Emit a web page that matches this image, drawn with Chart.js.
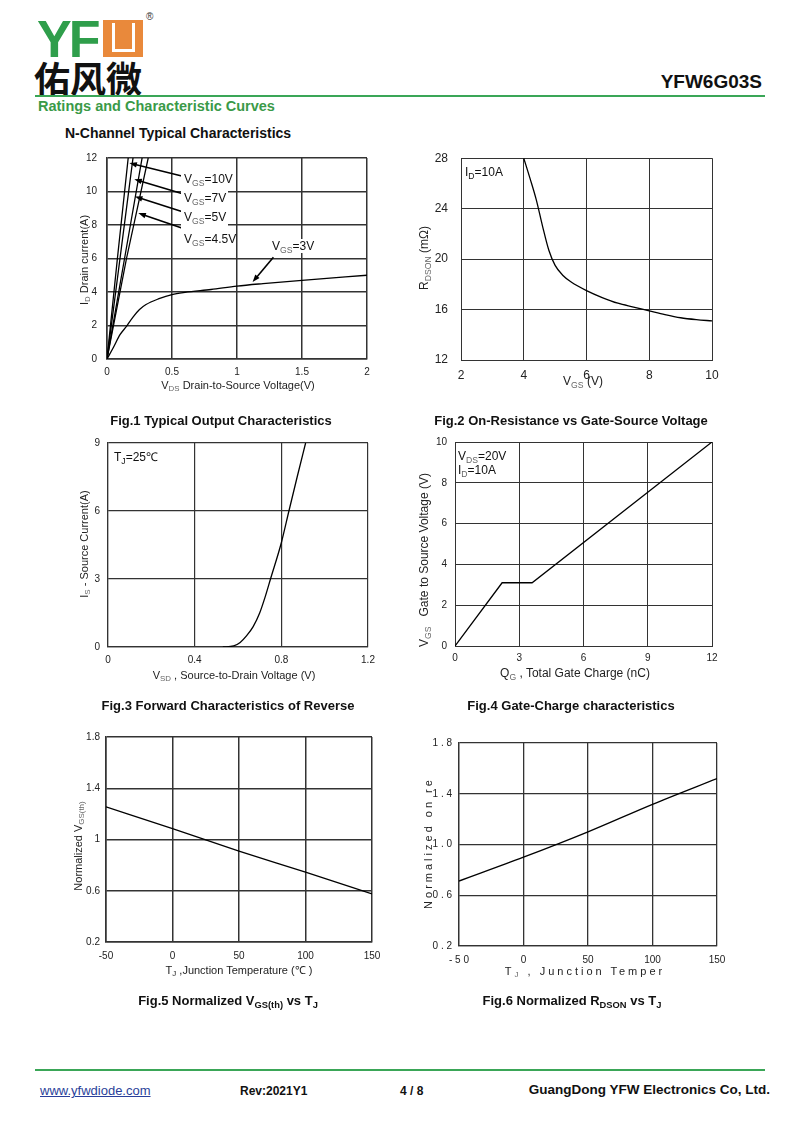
<!DOCTYPE html>
<html>
<head>
<meta charset="utf-8">
<script src="https://cdn.jsdelivr.net/npm/chart.js@4.4.1/dist/chart.umd.min.js"></script>
<style>
  body { margin: 0; width: 800px; height: 1131px; position: relative; background: #fff; overflow: hidden;
         font-family: "Liberation Sans", Arial, sans-serif; color: #111; }
  canvas { position: absolute; }
  .a { position: absolute; white-space: nowrap; }
  .c { position: absolute; white-space: nowrap; transform: translate(-50%, -50%); }
  .v { position: absolute; white-space: nowrap; transform: translate(-50%, -50%) rotate(-90deg); }
  .s { font-size: 72%; position: relative; top: 0.3em; color: #666; }
  .sb { font-size: 72%; position: relative; top: 0.3em; }
  .cap { font-weight: bold; font-size: 13px; }
  .ax { font-size: 11px; color: #222; }
  .lbl { font-size: 12px; color: #111; }
</style>
</head>
<body>

<!-- header -->
<div class="a" style="left:37px;top:13px;font:bold 52px/52px 'Liberation Sans';color:#2f9e4b;letter-spacing:-3px">YF</div>
<div class="a" style="left:103px;top:20px;width:40px;height:37px;background:#e9893b">
  <div class="a" style="left:9px;top:3px;width:17px;height:26px;border:3px solid #fff;border-top:none"></div>
</div>
<div class="a" style="left:146px;top:11px;font-size:10px;color:#333">®</div>
<div class="a" style="left:34px;top:57px;font:bold 36px/40px 'Noto Sans CJK SC';color:#111">佑风微</div>
<div class="a" style="right:38px;top:71px;font:bold 19px/22px 'Liberation Sans';color:#111">YFW6G03S</div>
<div class="a" style="left:35px;top:95px;width:730px;height:2px;background:#3aa657"></div>
<div class="a" style="left:38px;top:98px;font:bold 14.5px/16px 'Liberation Sans';color:#3a9a48">Ratings and Characteristic Curves</div>
<div class="a" style="left:65px;top:125px;font:bold 14px/16px 'Liberation Sans'">N-Channel Typical Characteristics</div>

<canvas id="fig1"></canvas>
<canvas id="fig2"></canvas>
<canvas id="fig3"></canvas>
<canvas id="fig4"></canvas>
<canvas id="fig5"></canvas>
<canvas id="fig6"></canvas>

<!-- fig1 texts -->
<div class="a" style="left:181px;top:172px;width:47px;height:74px;background:#fff"></div>
<div class="a lbl" style="left:184px;top:172px">V<span class="s">GS</span>=10V</div>
<div class="a lbl" style="left:184px;top:191px">V<span class="s">GS</span>=7V</div>
<div class="a lbl" style="left:184px;top:210px">V<span class="s">GS</span>=5V</div>
<div class="a lbl" style="left:184px;top:232px">V<span class="s">GS</span>=4.5V</div>
<div class="a lbl" style="left:272px;top:239px;background:#fff">V<span class="s">GS</span>=3V</div>
<div class="v ax" style="left:84px;top:260px">I<span class="s">D</span> Drain current(A)</div>
<div class="c ax" style="left:238px;top:385px">V<span class="s">DS</span> Drain-to-Source Voltage(V)</div>
<div class="c cap" style="left:221px;top:420px">Fig.1 Typical Output Characteristics</div>

<!-- fig2 texts -->
<div class="a lbl" style="left:465px;top:165px">I<span class="sb">D</span>=10A</div>
<div class="v" style="left:424px;top:258px;font-size:12px;color:#222">R<span class="s">DSON</span> (mΩ)</div>
<div class="c" style="left:583px;top:381px;font-size:12px;color:#222">V<span class="s">GS</span> (V)</div>
<div class="c cap" style="left:571px;top:420px">Fig.2 On-Resistance vs Gate-Source Voltage</div>

<!-- fig3 texts -->
<div class="a lbl" style="left:114px;top:448px">T<span class="sb">J</span>=25℃</div>
<div class="v ax" style="left:84px;top:544px">I<span class="s">S</span> - Source Current(A)</div>
<div class="c ax" style="left:234px;top:675px">V<span class="s">SD</span> , Source-to-Drain Voltage (V)</div>
<div class="c cap" style="left:228px;top:705px">Fig.3 Forward Characteristics of Reverse</div>

<!-- fig4 texts -->
<div class="a lbl" style="left:458px;top:449px">V<span class="s">DS</span>=20V</div>
<div class="a lbl" style="left:458px;top:463px">I<span class="s">D</span>=10A</div>
<div class="v" style="left:424px;top:560px;font-size:12px;color:#222">V<span class="s">GS</span>&nbsp;&nbsp; Gate to Source Voltage (V)</div>
<div class="c" style="left:575px;top:673px;font-size:12px;color:#222">Q<span class="s">G</span> , Total Gate Charge (nC)</div>
<div class="c cap" style="left:571px;top:705px">Fig.4 Gate-Charge characteristics</div>

<!-- fig5 texts -->
<div class="v ax" style="left:78px;top:846px">Normalized V<span class="s">GS(th)</span></div>
<div class="c ax" style="left:239px;top:969px">T<span class="sb">J</span> ,Junction Temperature (℃ )</div>
<div class="c cap" style="left:228px;top:1000px">Fig.5 Normalized V<span class="sb">GS(th)</span> vs T<span class="sb">J</span></div>

<!-- fig6 texts -->
<div class="v ax" style="left:428px;top:843px;letter-spacing:3px">Normalized on re</div>
<div class="c ax" style="left:585px;top:971px;letter-spacing:3px">T<span class="s">J</span> , Junction Temper</div>
<div class="c cap" style="left:572px;top:1000px">Fig.6 Normalized R<span class="sb">DSON</span> vs T<span class="sb">J</span></div>

<!-- footer -->
<div class="a" style="left:35px;top:1069px;width:730px;height:2px;background:#3aa657"></div>
<div class="a" style="left:40px;top:1083px;font-size:13px;color:#2a3f9a;text-decoration:underline">www.yfwdiode.com</div>
<div class="a" style="left:240px;top:1084px;font:bold 12px 'Liberation Sans'">Rev:2021Y1</div>
<div class="a" style="left:400px;top:1084px;font:bold 12px 'Liberation Sans'">4 / 8</div>
<div class="a" style="right:30px;top:1082px;font:bold 13.5px 'Liberation Sans'">GuangDong YFW Electronics Co, Ltd.</div>

<script>
// Fig.1 output characteristics
const vgs10Vds = [0, 0.08, 0.163];
const vgs10Id = [0, 6, 12];
const vgs7Vds = [0, 0.1, 0.2];
const vgs7Id = [0, 6, 12];
const vgs5Vds = [0, 0.135, 0.27];
const vgs5Id = [0, 6, 12];
const vgs45Vds = [0, 0.15, 0.317];
const vgs45Id = [0, 6, 12];
const vgs3Vds = [0, 0.05, 0.1, 0.15, 0.2, 0.25, 0.3, 0.4, 0.5, 0.6, 0.8, 1.0, 1.2, 1.5, 2.0];
const vgs3Id = [0, 0.7, 1.45, 1.95, 2.5, 2.95, 3.25, 3.6, 3.85, 3.98, 4.15, 4.35, 4.5, 4.7, 5.0];
// label arrows (tail -> head), in data units
const fig1ArrowTail = [[0.575, 10.93], [0.575, 9.88], [0.575, 8.81], [0.575, 7.82], [1.28, 6.08]];
const fig1ArrowHead = [[0.172, 11.7], [0.21, 10.73], [0.215, 9.7], [0.241, 8.71], [1.12, 4.59]];

// Fig.2 on-resistance vs VGS
const fig2Vgs = [4, 4.2, 4.4, 4.6, 4.8, 5.0, 5.25, 5.5, 6.0, 6.5, 7.0, 7.5, 8.0, 8.5, 9.0, 9.5, 10];
const fig2Rds = [28, 26.4, 24.7, 22.6, 20.7, 19.5, 18.7, 18.2, 17.5, 16.95, 16.5, 16.2, 15.9, 15.6, 15.35, 15.2, 15.1];

// Fig.3 body diode forward
const fig3Vsd = [0.53, 0.58, 0.61, 0.64, 0.67, 0.70, 0.725, 0.75, 0.80, 0.835, 0.873, 0.912];
const fig3Is = [0, 0.05, 0.2, 0.5, 0.9, 1.5, 2.2, 3.0, 4.6, 6.0, 7.5, 9.0];

// Fig.4 gate charge
const fig4Qg = [0, 2.2, 3.6, 12];
const fig4Vgs = [0, 3.1, 3.1, 10];

// Fig.5 / Fig.6 vs junction temperature
const tempC = [-50, 0, 50, 100, 150];
const fig5Vth = [1.255, 1.085, 0.91, 0.745, 0.575];
const fig6Rds = [0.712, 0.90, 1.10, 1.317, 1.52];

const family = "'Liberation Sans', Arial, sans-serif";
const plain = v => String(Math.round(v * 100) / 100);
const spaced = v => String(v).split('').join(' ');

const arrowPlugin = {
  id: 'arrows',
  afterDatasetsDraw(chart, args, opts) {
    const { ctx, scales } = chart;
    const tails = opts.tails || [], heads = opts.heads || [];
    ctx.save();
    ctx.strokeStyle = '#000';
    ctx.fillStyle = '#000';
    ctx.lineWidth = 1.6;
    tails.forEach((t, i) => {
      const x0 = scales.x.getPixelForValue(t[0]), y0 = scales.y.getPixelForValue(t[1]);
      const x1 = scales.x.getPixelForValue(heads[i][0]), y1 = scales.y.getPixelForValue(heads[i][1]);
      const ang = Math.atan2(y1 - y0, x1 - x0);
      ctx.beginPath();
      ctx.moveTo(x0, y0);
      ctx.lineTo(x1 - 5 * Math.cos(ang), y1 - 5 * Math.sin(ang));
      ctx.stroke();
      ctx.beginPath();
      ctx.moveTo(x1, y1);
      ctx.lineTo(x1 - 8 * Math.cos(ang - 0.35), y1 - 8 * Math.sin(ang - 0.35));
      ctx.lineTo(x1 - 8 * Math.cos(ang + 0.35), y1 - 8 * Math.sin(ang + 0.35));
      ctx.closePath();
      ctx.fill();
    });
    ctx.restore();
  }
};

function buildChart(id, area, sx, sy, series, arrows) {
  const m = { l: 60, t: 14, r: 26, b: 32 };
  const cv = document.getElementById(id);
  const w = area.w + m.l + m.r, h = area.h + m.t + m.b;
  cv.width = w;
  cv.height = h;
  cv.style.left = (area.x - m.l) + 'px';
  cv.style.top = (area.y - m.t) + 'px';

  const scale = (s, fit) => ({
    type: 'linear', min: s.min, max: s.max,
    ticks: { stepSize: s.step, padding: s.pad, color: '#222', font: { family, size: s.size },
             autoSkip: false, maxRotation: 0, callback: s.fmt || plain },
    grid: { color: '#333', lineWidth: area.gw, drawTicks: false },
    border: { color: '#333', width: area.gw },
    afterFit: fit
  });

  return new Chart(cv, {
    type: 'line',
    data: {
      datasets: series.map(sr => ({
        data: sr.x.map((v, i) => ({ x: v, y: sr.y[i] })),
        borderColor: '#000',
        borderWidth: 1.3,
        pointRadius: 0,
        cubicInterpolationMode: sr.straight ? 'default' : 'monotone',
        tension: sr.straight ? 0 : 0.4
      }))
    },
    options: {
      responsive: false,
      animation: false,
      layout: { padding: { top: m.t, right: m.r, left: 0, bottom: 0 } },
      plugins: { legend: { display: false }, tooltip: { enabled: false }, arrows: arrows || {} },
      scales: {
        x: scale(sx, s => { s.height = m.b; }),
        y: scale(sy, s => { s.width = m.l; })
      }
    },
    plugins: [arrowPlugin]
  });
}

buildChart('fig1', { x: 107, y: 156, w: 260, h: 203, gw: 1.5 },
  { min: 0, max: 2, step: 0.5, pad: 7, size: 10 },
  { min: 0, max: 12, step: 2, pad: 10, size: 10 },
  [
    { x: vgs10Vds, y: vgs10Id, straight: true },
    { x: vgs7Vds, y: vgs7Id, straight: true },
    { x: vgs5Vds, y: vgs5Id, straight: true },
    { x: vgs45Vds, y: vgs45Id, straight: true },
    { x: vgs3Vds, y: vgs3Id }
  ],
  { tails: fig1ArrowTail, heads: fig1ArrowHead });

buildChart('fig2', { x: 461, y: 152, w: 251, h: 208, gw: 1 },
  { min: 2, max: 10, step: 2, pad: 8, size: 12 },
  { min: 12, max: 28, step: 4, pad: 13, size: 12 },
  [{ x: fig2Vgs, y: fig2Rds }]);

buildChart('fig3', { x: 108, y: 443, w: 260, h: 204, gw: 1.2 },
  { min: 0, max: 1.2, step: 0.4, pad: 7, size: 10 },
  { min: 0, max: 9, step: 3, pad: 8, size: 10 },
  [{ x: fig3Vsd, y: fig3Is }]);

buildChart('fig4', { x: 455, y: 442, w: 257, h: 204, gw: 1 },
  { min: 0, max: 12, step: 3, pad: 6, size: 10 },
  { min: 0, max: 10, step: 2, pad: 8, size: 10 },
  [{ x: fig4Qg, y: fig4Vgs, straight: true }]);

buildChart('fig5', { x: 106, y: 737, w: 266, h: 205, gw: 1.5 },
  { min: -50, max: 150, step: 50, pad: 8, size: 10 },
  { min: 0.2, max: 1.8, step: 0.4, pad: 6, size: 10 },
  [{ x: tempC, y: fig5Vth }]);

buildChart('fig6', { x: 459, y: 743, w: 258, h: 203, gw: 1.3 },
  { min: -50, max: 150, step: 50, pad: 8, size: 10, fmt: v => (v < 0 ? spaced(v) : String(v)) },
  { min: 0.2, max: 1.8, step: 0.4, pad: 7, size: 10, fmt: v => spaced(v.toFixed(1)) },
  [{ x: tempC, y: fig6Rds }]);
</script>
</body>
</html>
